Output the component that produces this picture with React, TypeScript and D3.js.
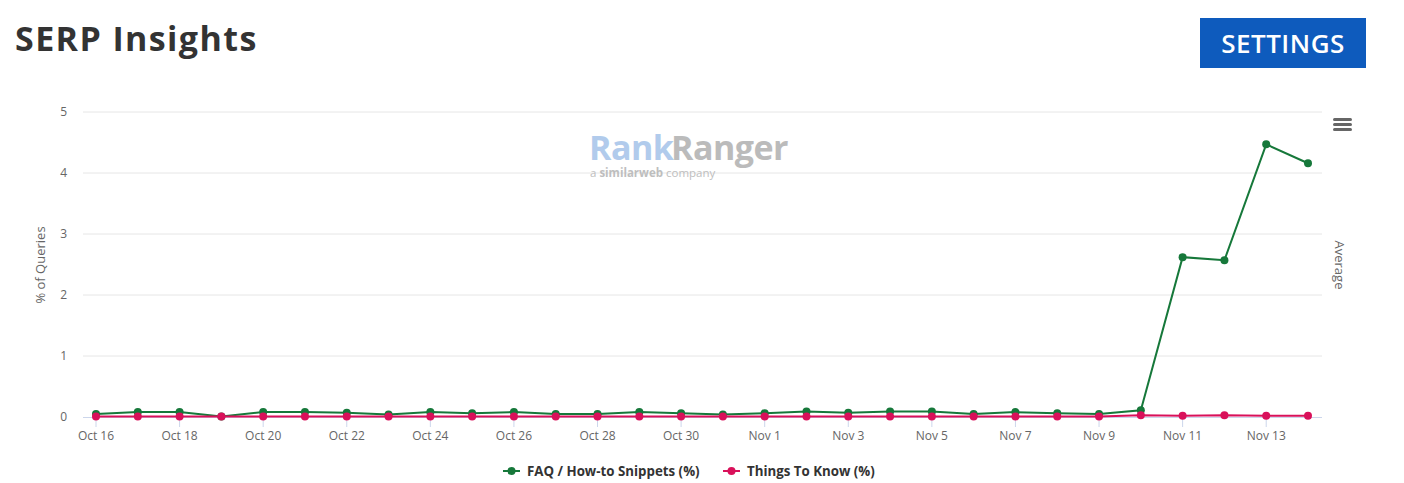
import React from "react";
import * as d3 from "d3";

const categories = [
  "Oct 16","Oct 17","Oct 18","Oct 19","Oct 20","Oct 21","Oct 22","Oct 23","Oct 24","Oct 25",
  "Oct 26","Oct 27","Oct 28","Oct 29","Oct 30","Oct 31","Nov 1","Nov 2","Nov 3","Nov 4",
  "Nov 5","Nov 6","Nov 7","Nov 8","Nov 9","Nov 10","Nov 11","Nov 12","Nov 13","Nov 14",
];
const faqValues = [
  0.05,0.08,0.08,0.01,0.08,0.08,0.07,0.04,0.08,0.06,
  0.08,0.05,0.05,0.08,0.06,0.04,0.06,0.09,0.07,0.09,
  0.09,0.05,0.08,0.06,0.05,0.11,2.62,2.57,4.47,4.16,
];
const thingsValues = [
  0.01,0.01,0.01,0.01,0.01,0.01,0.01,0.01,0.01,0.01,
  0.01,0.01,0.01,0.01,0.01,0.01,0.01,0.01,0.01,0.01,
  0.01,0.01,0.01,0.01,0.01,0.03,0.02,0.03,0.02,0.02,
];
const yTicks = [0, 1, 2, 3, 4, 5];
const seriesNames = ["FAQ / How-to Snippets (%)", "Things To Know (%)"];
const colors = ["#16783a", "#d9105a"];

const W = 1404, H = 483;
const plotLeft = 83, plotRight = 1322, plotTop = 112, plotBottom = 417;

export default function App() {
  const x = d3.scalePoint<string>().domain(categories).range([96, 1308]);
  const y = d3.scaleLinear().domain([0, 5]).range([plotBottom, plotTop]);
  const line = d3.line<number>().x((_, i) => x(categories[i])!).y((v) => y(v));
  const series = [faqValues, thingsValues];
  const labelCats = categories.filter((_, i) => i % 2 === 0);
  const font = "'Open Sans', 'DejaVu Sans', sans-serif";

  return (
    <svg width={W} height={H} style={{ position: "absolute", left: 0, top: 0, background: "#fff" }} fontFamily={font}>
      <text x={15} y={51} fontSize={34} fontWeight={700} fill="#333" letterSpacing={1.4}>SERP Insights</text>
      <rect x={1200} y={18} width={166} height={50} fill="#0e5bbd" />
      <text x={1283} y={53} fontSize={26} fontWeight={600} fill="#fff" textAnchor="middle" letterSpacing={0.5}>SETTINGS</text>

      {/* gridlines */}
      {yTicks.filter((t) => t > 0).map((t) => (
        <line key={t} x1={plotLeft} x2={plotRight} y1={y(t)} y2={y(t)} stroke="#e6e6e6" strokeWidth={1} />
      ))}
      {yTicks.map((t) => (
        <text key={"yl" + t} x={67} y={y(t) + 4} fontSize={12} fill="#666" textAnchor="end">{t}</text>
      ))}
      <text transform={`translate(45,265) rotate(-90)`} fontSize={13} fill="#666" textAnchor="middle">% of Queries</text>
      <text transform={`translate(1335,265) rotate(90)`} fontSize={13} fill="#666" textAnchor="middle">Average</text>

      {/* watermark */}
      <g opacity={0.9}>
        <text x={589} y={160} fontSize={34} fontWeight={700} fill="#a9c6ea" letterSpacing={-0.5}>Rank</text>
        <text x={671} y={160} fontSize={34} fontWeight={700} fill="#b4b4b4" letterSpacing={-0.5}>Ranger</text>
        <text x={590} y={177} fontSize={11.5} fill="#b8b8b8">a <tspan fontWeight={700}>similarweb</tspan> company</text>
      </g>

      {/* hamburger */}
      {[0, 5, 10].map((d) => (
        <rect key={d} x={1333} y={118 + d} width={19} height={3} rx={1.5} fill="#666" />
      ))}

      {/* x axis */}
      <line x1={plotLeft} x2={plotRight} y1={plotBottom + 0.5} y2={plotBottom + 0.5} stroke="#ccd6eb" />
      {labelCats.map((c) => (
        <g key={c}>
          <line x1={x(c)!} x2={x(c)!} y1={plotBottom} y2={plotBottom + 10} stroke="#ccd6eb" />
          <text x={x(c)!} y={440} fontSize={12} fill="#666" textAnchor="middle">{c}</text>
        </g>
      ))}

      {/* series */}
      {series.map((s, si) => (
        <g key={si}>
          <path d={line(s)!} fill="none" stroke={colors[si]} strokeWidth={2} />
          {s.map((v, i) => (
            <circle key={i} cx={x(categories[i])!} cy={y(v)} r={4} fill={colors[si]} />
          ))}
        </g>
      ))}

      {/* legend */}
      {seriesNames.map((n, i) => {
        const lx = i === 0 ? 503 : 723;
        return (
          <g key={n}>
            <line x1={lx} x2={lx + 17} y1={471} y2={471} stroke={colors[i]} strokeWidth={2} />
            <circle cx={lx + 8.5} cy={471} r={4} fill={colors[i]} />
            <text x={lx + 24} y={476} fontSize={13.3} fontWeight={700} fill="#333">{n}</text>
          </g>
        );
      })}
    </svg>
  );
}
